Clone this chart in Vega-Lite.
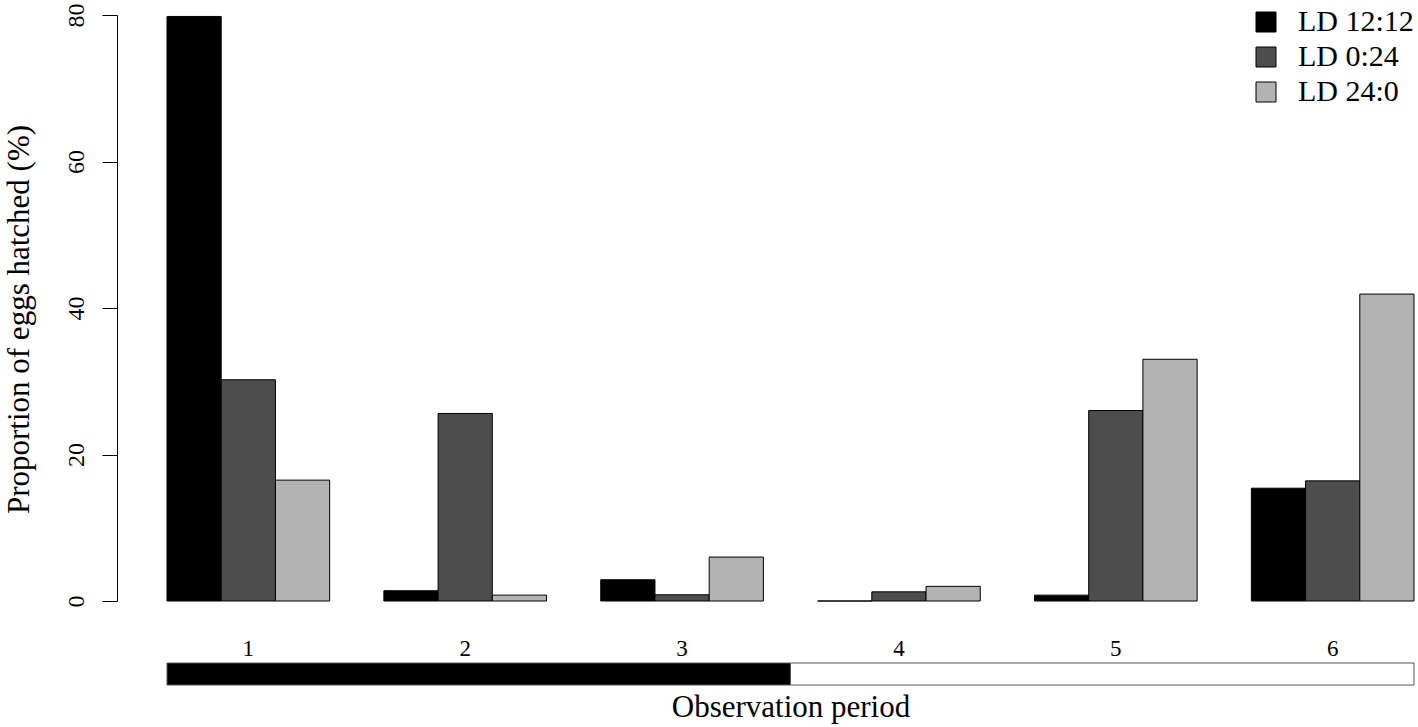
{
  "$schema": "https://vega.github.io/schema/vega-lite/v6.json",
  "background": "white",
  "padding": {"left": 3, "top": 3, "right": 5, "bottom": 5},
  "bounds": "flush",
  "spacing": 62,
  "config": {
    "view": {"stroke": null},
    "font": "Liberation Serif",
    "axis": {"grid": false, "labelFont": "Liberation Serif", "titleFont": "Liberation Serif", "labelColor": "black", "titleColor": "black", "titleFontWeight": "normal"},
    "legend": {"labelFont": "Liberation Serif", "labelColor": "black"}
  },
  "datasets": {
    "hatch": [
      {"period": 1, "regime": "LD 12:12", "pct": 79.8},
      {"period": 1, "regime": "LD 0:24", "pct": 30.2},
      {"period": 1, "regime": "LD 24:0", "pct": 16.5},
      {"period": 2, "regime": "LD 12:12", "pct": 1.4},
      {"period": 2, "regime": "LD 0:24", "pct": 25.6},
      {"period": 2, "regime": "LD 24:0", "pct": 0.8},
      {"period": 3, "regime": "LD 12:12", "pct": 2.9},
      {"period": 3, "regime": "LD 0:24", "pct": 0.85},
      {"period": 3, "regime": "LD 24:0", "pct": 6.0},
      {"period": 4, "regime": "LD 12:12", "pct": 0},
      {"period": 4, "regime": "LD 0:24", "pct": 1.25},
      {"period": 4, "regime": "LD 24:0", "pct": 2.0},
      {"period": 5, "regime": "LD 12:12", "pct": 0.8},
      {"period": 5, "regime": "LD 0:24", "pct": 26.0},
      {"period": 5, "regime": "LD 24:0", "pct": 33.0},
      {"period": 6, "regime": "LD 12:12", "pct": 15.4},
      {"period": 6, "regime": "LD 0:24", "pct": 16.4},
      {"period": 6, "regime": "LD 24:0", "pct": 41.9}
    ],
    "light": [
      {"phase": "dark", "from": 1, "to": 3},
      {"phase": "light", "from": 4, "to": 6}
    ]
  },
  "vconcat": [
    {
      "width": 1247,
      "height": 586,
      "data": {"name": "hatch"},
      "mark": {"type": "bar", "stroke": "black", "strokeWidth": 1},
      "encoding": {
        "x": {
          "field": "period", "type": "ordinal",
          "scale": {"paddingInner": 0.25, "paddingOuter": 0},
          "axis": {"title": null, "labelAngle": 0, "domain": false, "ticks": false, "tickSize": 0, "labelPadding": 36, "labelFontSize": 23}
        },
        "xOffset": {
          "field": "regime", "type": "nominal",
          "sort": ["LD 12:12", "LD 0:24", "LD 24:0"],
          "scale": {"paddingInner": 0, "paddingOuter": 0}
        },
        "y": {
          "field": "pct", "type": "quantitative",
          "scale": {"domain": [0, 80], "nice": false},
          "axis": {
            "title": "Proportion of eggs hatched (%)",
            "values": [0, 20, 40, 60, 80],
            "offset": 50, "tickSize": 15, "tickColor": "black", "domainColor": "black",
            "labelAngle": 270, "labelAlign": "center", "labelBaseline": "alphabetic",
            "labelPadding": 19, "labelFontSize": 24,
            "titleFontSize": 31, "titlePadding": 29, "titleY": 304
          }
        },
        "color": {
          "field": "regime", "type": "nominal",
          "sort": ["LD 12:12", "LD 0:24", "LD 24:0"],
          "scale": {"domain": ["LD 12:12", "LD 0:24", "LD 24:0"], "range": ["#000000", "#4d4d4d", "#b3b3b3"]},
          "legend": {
            "title": null, "orient": "none", "legendX": 1084, "legendY": -8,
            "symbolType": "square", "symbolSize": 400, "symbolStrokeColor": "black", "symbolStrokeWidth": 1,
            "labelFontSize": 30, "labelOffset": 17, "rowPadding": 5, "padding": 0
          }
        }
      }
    },
    {
      "width": 1247,
      "height": 22,
      "data": {"name": "light"},
      "layer": [
        {
          "transform": [{"filter": "datum.phase === 'dark'"}],
          "mark": {"type": "rect", "fill": "black", "stroke": "#555555", "strokeWidth": 1},
          "encoding": {
            "x": {"field": "from", "type": "ordinal", "bandPosition": 0,
              "axis": {"title": "Observation period", "labels": false, "ticks": false, "domain": false, "titleFontSize": 31, "titlePadding": 7}},
            "x2": {"field": "to", "bandPosition": 1.1667}
          }
        },
        {
          "transform": [{"filter": "datum.phase === 'light'"}],
          "mark": {"type": "rect", "fill": "white", "stroke": "#555555", "strokeWidth": 1},
          "encoding": {
            "x": {"field": "from", "type": "ordinal", "bandPosition": -0.1667,
              "axis": {"title": "Observation period", "labels": false, "ticks": false, "domain": false, "titleFontSize": 31, "titlePadding": 7}},
            "x2": {"field": "to", "bandPosition": 1}
          }
        }
      ]
    }
  ],
  "resolve": {"scale": {"x": "shared"}}
}
